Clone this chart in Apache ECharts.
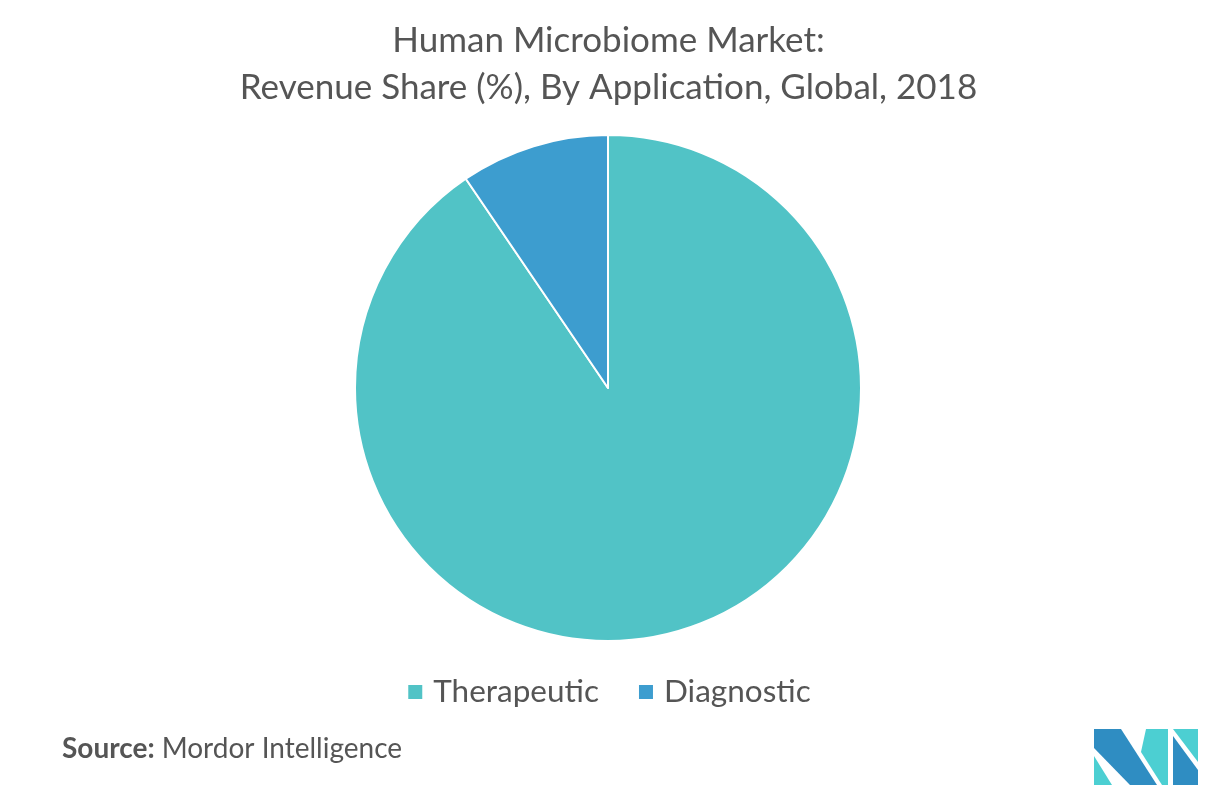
<!DOCTYPE html>
<html>
<head>
<meta charset="utf-8">
<script src="https://cdn.jsdelivr.net/npm/echarts@6/dist/echarts.min.js"></script>
<style>html,body{margin:0;padding:0;background:#fff;}#c{width:1217px;height:789px;}</style>
</head>
<body>
<div id="c"></div>
<script>
const categories = ['Therapeutic', 'Diagnostic'];
const shares = [90.5, 9.5];
const colors = ['#51c3c6', '#3d9dcf'];

const chart = echarts.init(document.getElementById('c'));
chart.setOption({
  animation: false,
  backgroundColor: '#fff',
  title: {
    text: 'Human Microbiome Market:\nRevenue Share (%), By Application, Global, 2018',
    left: 'center',
    top: 12,
    textStyle: { fontFamily: 'Lato', fontWeight: 'normal', fontSize: 35, color: '#555', lineHeight: 47 }
  },
  legend: {
    data: categories,
    top: 671,
    left: 'center',
    icon: 'rect',
    itemWidth: 16,
    itemHeight: 16,
    itemGap: 38,
    textStyle: { fontFamily: 'Lato', fontSize: 31.5, color: '#555', padding: [0, 0, 0, 5] }
  },
  series: [{
    type: 'pie',
    center: [608, 388],
    radius: [0, 253],
    startAngle: 90,
    clockwise: true,
    label: { show: false },
    labelLine: { show: false },
    itemStyle: { borderColor: '#fff', borderWidth: 2 },
    data: categories.map((n, i) => ({ name: n, value: shares[i], itemStyle: { color: colors[i] } }))
  }],
  graphic: [
    {
      type: 'text', left: 62, top: 735,
      style: {
        rich: {
          b: { fontFamily: 'Lato', fontWeight: 'bold', fontSize: 28, fill: '#555' },
          n: { fontFamily: 'Lato', fontSize: 28, fill: '#555', padding: [0, 0, 0, 7] }
        },
        text: '{b|Source:}{n|Mordor Intelligence}'
      }
    },
    { type: 'polygon', shape: { points: [[1094,729],[1121,729],[1157,785],[1130,785],[1094,748]] }, style: { fill: '#2f8dc2' } },
    { type: 'polygon', shape: { points: [[1094,756],[1112,785],[1094,785]] }, style: { fill: '#4ccfd2' } },
    { type: 'polygon', shape: { points: [[1146,729],[1168,729],[1168,785],[1162,785],[1141,752]] }, style: { fill: '#4ccfd2' } },
    { type: 'polygon', shape: { points: [[1173,729],[1198,729],[1198,762]] }, style: { fill: '#4ccfd2' } },
    { type: 'polygon', shape: { points: [[1173,736],[1198,770],[1198,785],[1173,785]] }, style: { fill: '#2f8dc2' } }
  ]
});
</script>
</body>
</html>
